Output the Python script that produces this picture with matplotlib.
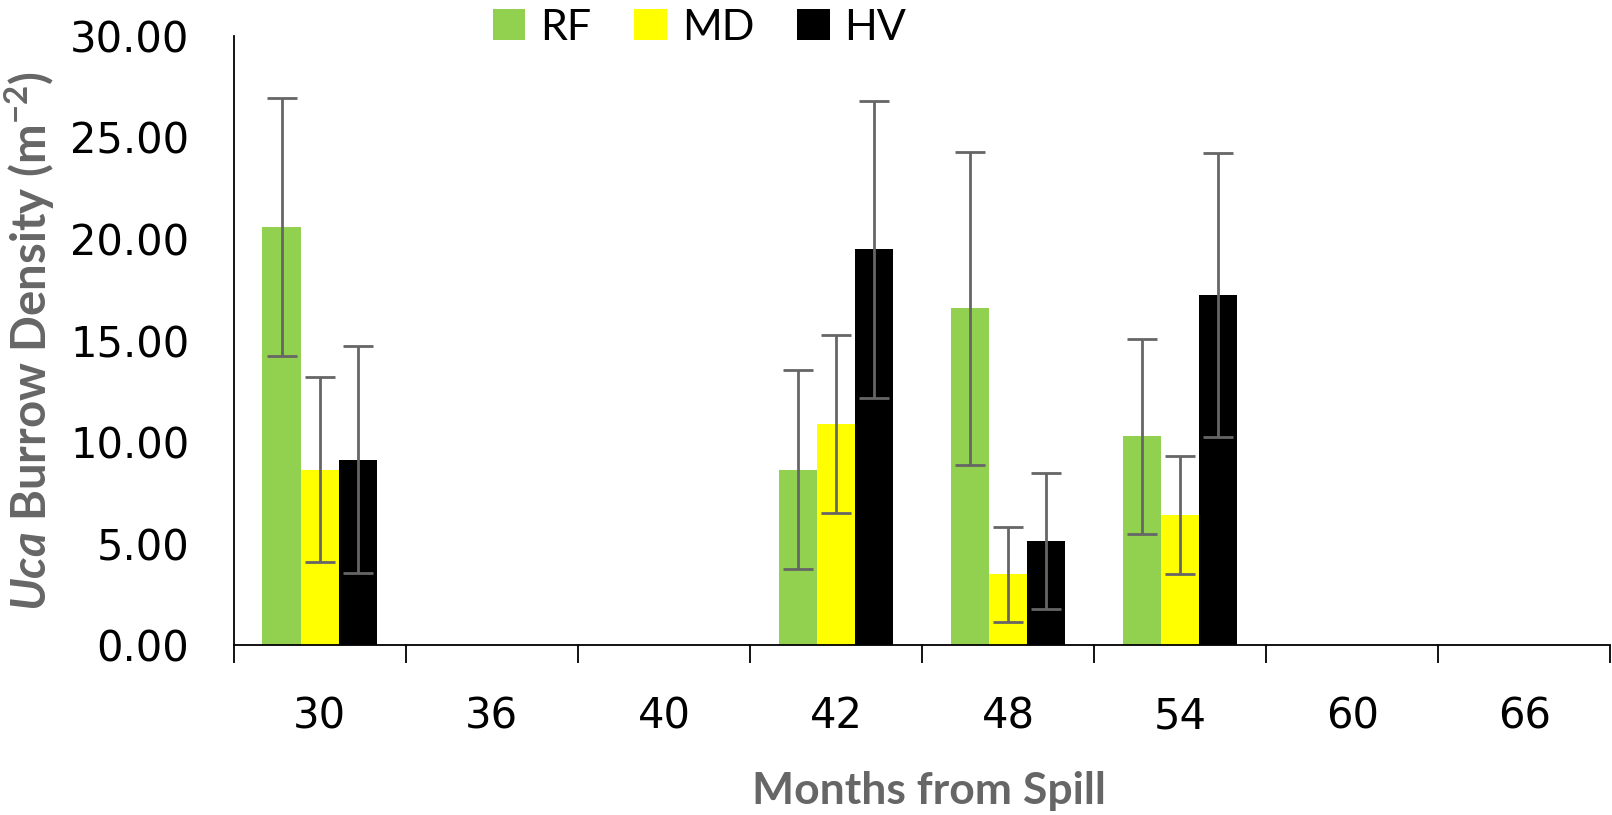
import numpy as np
from matplotlib import pyplot as plt

# Chart data
months = ["30", "36", "40", "42", "48", "54", "60", "66"]
nan = np.nan
rf_mean = [20.6, nan, nan, 8.65, 16.6, 10.3, nan, nan]
rf_err = [6.35, nan, nan, 4.9, 7.7, 4.8, nan, nan]
md_mean = [8.65, nan, nan, 10.9, 3.5, 6.4, nan, nan]
md_err = [4.55, nan, nan, 4.4, 2.35, 2.9, nan, nan]
hv_mean = [9.15, nan, nan, 19.5, 5.15, 17.25, nan, nan]
hv_err = [5.6, nan, nan, 7.3, 3.35, 7.0, nan, nan]

series = [
    ("RF", rf_mean, rf_err, "#92D050"),
    ("MD", md_mean, md_err, "#FFFF00"),
    ("HV", hv_mean, hv_err, "#000000"),
]

plt.rcParams["font.family"] = ["DejaVu Sans"]
plt.rcParams["mathtext.fontset"] = "custom"
plt.rcParams["mathtext.rm"] = "Lato:bold"
plt.rcParams["mathtext.it"] = "Lato:italic:bold"

# Initialize figure
fig = plt.figure(figsize=(16.12, 8.15), dpi=100)
ax = fig.add_axes([0.145, 0.208, 0.854, 0.748])

centers = np.arange(len(months)) + 0.5
width = 0.222
offsets = [-width, 0, width]

# Plot bars with error bars
for (name, mean, err, color), off in zip(series, offsets):
    ax.bar(centers + off, np.nan_to_num(mean), width, color=color, label=name)
    ax.errorbar(centers + off, mean, yerr=err, fmt="none", ecolor="#666666",
                elinewidth=2, capsize=11, capthick=2)

# Axes styling
ax.set_xlim(0, len(months))
ax.set_ylim(0, 30)
ax.set_yticks(np.arange(0, 31, 5))
ax.set_yticklabels([f"{v:.2f}" for v in np.arange(0, 31, 5)])
ax.set_xticks(np.arange(len(months) + 1))
ax.set_xticklabels([])
ax.set_xticks(centers, minor=True)
ax.set_xticklabels(months, minor=True)
ax.tick_params(axis="x", which="major", length=13, width=1.3, direction="out")
ax.tick_params(axis="x", which="minor", length=0, pad=36, labelsize=30)
ax.tick_params(axis="y", length=0, pad=32, labelsize=30)
for side in ["top", "right"]:
    ax.spines[side].set_visible(False)
for side in ["left", "bottom"]:
    ax.spines[side].set_linewidth(1.3)

# Labels
fig.text(0.576, 0.03, "Months from Spill", ha="center", va="center",
         fontsize=32, fontweight="bold", color="#666666", family="Lato")
fig.text(0.018, 0.582, r"$\mathit{Uca}$ Burrow Density (m$^{-2}$)", rotation=90,
         ha="center", va="center", fontsize=34, fontweight="bold",
         color="#666666", family="Lato")

# Legend
fig.legend(loc="center", bbox_to_anchor=(0.434, 0.966), ncol=3, frameon=False,
           handlelength=0.75, handleheight=0.75, columnspacing=1.0,
           handletextpad=0.35, prop={"family": "Lato", "size": 31})

plt.savefig("out.png")
